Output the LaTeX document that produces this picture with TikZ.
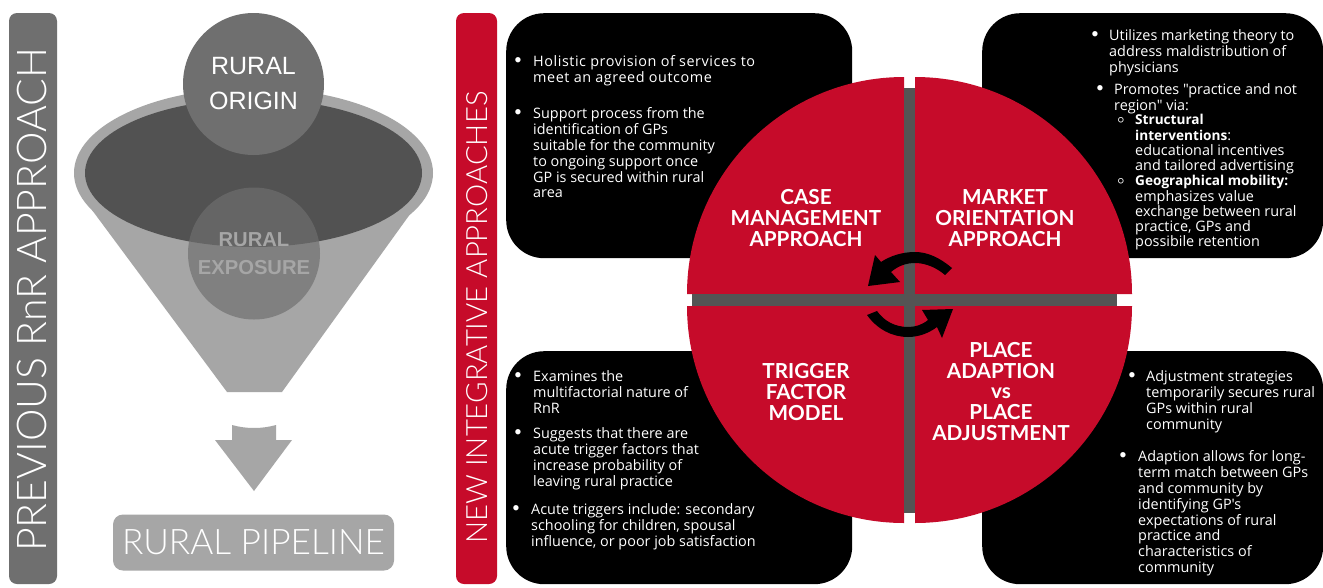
\documentclass[tikz,border=0pt]{standalone}
\usepackage{fontspec}
\setmainfont{Lato}
\newfontfamily\bodyfont{Open Sans}
\newfontfamily\thinfont{Lato Light}
\newfontfamily\arialfont{Liberation Sans}
\usetikzlibrary{shapes.geometric}
\definecolor{barGrey}{HTML}{6F6F6F}
\definecolor{funnelGrey}{HTML}{A6A6A6}
\definecolor{darkGrey}{HTML}{525252}
\definecolor{crossGrey}{HTML}{545454}
\definecolor{redC}{HTML}{C60B2A}
\tikzset{
  bar/.style={draw=none,rounded corners=8pt,minimum width=#1,inner sep=0pt},
  card/.style={draw=none,fill=black,rounded corners=38pt,inner sep=0pt,anchor=north west},
  body/.style={text=white,inner sep=0pt,anchor=north west,align=left,font=\bodyfont\fontsize{14.4}{15.9}\selectfont},
  subbody/.style={body,font=\bodyfont\fontsize{14.4}{15.3}\selectfont},
  bul/.style={text=white,inner sep=0pt,anchor=center,font=\fontsize{14.4}{15.9}\selectfont},
  head/.style={text=white,inner sep=0pt,align=center,font=\fontsize{20.7}{20.8}\selectfont\bfseries},
  quad/.style={fill=redC,draw=none},
  cross/.style={fill=crossGrey,draw=none},
  swirl/.style={fill=black,draw=none}
}
\newcommand{\bd}[1]{{\fontsize{13.6}{15.3}\selectfont\bfseries #1}}
\newcommand{\blk}[5]{%
  \node[bul] (#1b) at (#2,#4) {•};
  \node[body] (#1) at (#3,#4-5.8) {#5};}
\newcommand{\sublk}[5]{%
  \node[bul] (#1b) at (#2,#4) {\fontsize{10}{10}\selectfont ○};
  \node[subbody] (#1) at (#3,#4-5.8) {#5};}
\begin{document}
\begin{tikzpicture}[x=1pt,y=-1pt]
\useasboundingbox (0,0) rectangle (1323,587);
\fill[white] (0,0) rectangle (1323,587);
% left bar
\node[bar=48pt,fill=barGrey,minimum height=571pt] (leftbar) at (33,298.5) {};
\node[rotate=90,text=white,inner sep=0pt,font=\thinfont\fontsize{41}{41}\selectfont] (lefttitle) at (32,300) {PREVIOUS RnR APPROACH};
% funnel
\fill[funnelGrey] (92,210) -- (227,392) -- (282,392) -- (413,210) -- cycle;
\node[ellipse,fill=funnelGrey,minimum width=359pt,minimum height=170pt,inner sep=0pt] (rim) at (253.5,173) {};
\node[ellipse,fill=darkGrey,minimum width=337pt,minimum height=148pt,inner sep=0pt] (mouth) at (253.5,173) {};
\node[ellipse,fill=barGrey,minimum width=141pt,minimum height=142pt,inner sep=0pt,text=white,align=center,font=\arialfont\fontsize{25}{35}\selectfont] (origin) at (253.5,84) {RURAL\\ORIGIN};
\node[circle,fill=barGrey,fill opacity=.68,text opacity=1,minimum size=132pt,inner sep=0pt,text=funnelGrey,align=center,font=\arialfont\bfseries\fontsize{20.2}{28}\selectfont] (exposure) at (254,253.5) {RURAL\\EXPOSURE};
% down arrow
\fill[funnelGrey] (232,425) .. controls (246,429) and (262,429) .. (276,425) -- (276,440) -- (292,440) -- (254,491) -- (215,440) -- (232,440) -- cycle;
\node[bar=281pt,rounded corners=10pt,fill=funnelGrey,minimum height=56pt,text=white,font=\thinfont\fontsize{35.2}{35.2}\selectfont] (pipeline) at (253.5,542.5) {RURAL PIPELINE};
% red bar
\node[bar=41pt,fill=redC,minimum height=571pt] (redbar) at (476.5,298.5) {};
\node[rotate=90,text=white,inner sep=0pt,font=\thinfont\fontsize{29.3}{29.3}\selectfont] (redtitle) at (477,317.5) {NEW INTEGRATIVE APPROACHES};
% cards
\node[card,minimum width=346pt,minimum height=245pt] (c1) at (506,13) {};
\node[card,minimum width=341pt,minimum height=245pt] (c2) at (982,13) {};
\node[card,minimum width=346pt,minimum height=233pt] (c3) at (506,351) {};
\node[card,minimum width=341pt,minimum height=233pt] (c4) at (982,351) {};
% quadrants
\fill[quad] (687,294) .. controls (687,174.15) and (784.15,77) .. (904,77) -- (904,294) -- cycle;
\fill[quad] (1132,294) .. controls (1132,174.15) and (1034.85,77) .. (915,77) -- (915,294) -- cycle;
\fill[quad] (687,306) .. controls (687,425.85) and (784.15,523) .. (904,523) -- (904,306) -- cycle;
\fill[quad] (1132,306) .. controls (1132,425.85) and (1034.85,523) .. (915,523) -- (915,306) -- cycle;
% cross
\fill[cross] (692,294) rectangle (1117,306);
\fill[cross] (904,88) rectangle (915,512.5);
% swirl arrows
\fill[swirl] (952,268) .. controls (940,258) and (928,252) .. (915,252) .. controls (902,252) and (890,256) .. (881,262) -- (875,255) -- (868,286) -- (900,282) -- (891,272) .. controls (898,266) and (906,263) .. (915,263) .. controls (926,263) and (937,268) .. (945,275) -- cycle;
\fill[swirl] (867,315) .. controls (877,329) and (892,337) .. (908,337) .. controls (919,337) and (929,333) .. (937,327) -- (942,338) -- (953,309) -- (922,310) -- (928,320) .. controls (922,325) and (915,327) .. (908,327) .. controls (895,327) and (884,321) .. (877,311) -- cycle;
% circle labels
\node[head] (h1) at (806,218) {CASE\\MANAGEMENT\\APPROACH};
\node[head] (h2) at (1005,218) {MARKET\\ORIENTATION\\APPROACH};
\node[head] (h3) at (806,392) {TRIGGER\\FACTOR\\MODEL};
\node[head] (h4) at (1001,391.5) {PLACE\\ADAPTION\\vs\\PLACE\\ADJUSTMENT};
% top left
\blk{a1}{518}{533}{61}{\addfontfeature{LetterSpace=3.8}Holistic provision of services to\\\addfontfeature{LetterSpace=3.8}meet an agreed outcome}
\blk{a2}{518}{533}{113}{Support process from the\\identification of GPs\\suitable for the community\\to ongoing support once\\GP is secured within rural\\area}
% top right
\blk{b1}{1095}{1109}{35}{Utilizes marketing theory to\\address maldistribution of\\physicians}
\blk{b2}{1100}{1114}{89}{Promotes "practice and not\\region" via:}
\sublk{b3}{1121}{1135}{120}{\bd{Structural}\\\bd{interventions}:\\educational incentives\\and tailored advertising}
\sublk{b4}{1121}{1135}{181}{\bd{Geographical mobility:}\\emphasizes value\\exchange between rural\\practice, GPs and\\possibile retention}
% bottom left
\blk{d1}{518}{533}{376}{Examines the\\multifactorial nature of\\RnR}
\blk{d2}{518}{533}{433}{Suggests that there are\\acute trigger factors that\\increase probability of\\leaving rural practice}
\blk{d3}{516}{531}{509}{Acute triggers include: secondary\\schooling for children, spousal\\influence, or poor job satisfaction}
% bottom right
\blk{e1}{1132}{1146}{376}{Adjustment strategies\\temporarily secures rural\\GPs within rural\\community}
\blk{e2}{1123}{1138}{456}{Adaption allows for long-\\term match between GPs\\and community by\\identifying GP's\\expectations of rural\\practice and\\characteristics of\\community}
\end{tikzpicture}
\end{document}
